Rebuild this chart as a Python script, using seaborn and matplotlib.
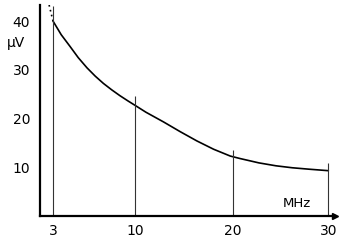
import numpy as np
import pandas as pd
import matplotlib
matplotlib.use("Agg")
import matplotlib.pyplot as plt
import seaborn as sns

# ---- data ----
freq_mhz = [3, 3.7, 4.45, 5.15, 5.9, 6.6, 7.3, 8.0, 8.7, 9.4, 10, 11.1, 12.9,
            14.6, 16.3, 18.0, 19.7, 20.7, 22.7, 24.5, 26.2, 28, 30]
noise_uv = [40.0, 37.2, 34.8, 32.5, 30.4, 28.7, 27.2, 25.9, 24.7, 23.6, 22.7, 21.3, 19.3,
            17.3, 15.4, 13.7, 12.3, 11.8, 10.9, 10.3, 9.9, 9.6, 9.3]
extrap_freq = [2.1, 3]
extrap_uv = [43.3, 40.0]
mark_freq = [3, 10, 20, 30]
mark_top = [43.0, 24.6, 13.5, 10.9]
x_ticks = [3, 10, 20, 30]
x_ticklabels = ["3", "10", "20", "30"]
y_ticks = [10, 20, 30, 40]
y_ticklabels = ["10", "20", "30", "40"]

sns.set_theme(style="white")
plt.rcParams["font.family"] = ["DejaVu Sans"]

fig = plt.figure(figsize=(3.4, 2.4), dpi=100)
ax = fig.add_axes([40 / 340, 24 / 240, 295 / 340, 211 / 240])

# hand-drawn, uneven frequency axis -> piecewise-linear scale
_d = np.array([-10, 0, 3, 10, 20, 30, 40])
_p = np.array([-43.3, 0, 13, 95, 193, 288, 383])
ax.set_xscale("function", functions=(lambda x: np.interp(x, _d, _p),
                                     lambda p: np.interp(p, _p, _d)))

df = pd.DataFrame({"f": freq_mhz, "v": noise_uv})
sns.lineplot(data=df, x="f", y="v", ax=ax, color="black", linewidth=1.2)
ax.plot(extrap_freq, extrap_uv, color="black", linestyle=(0, (1, 2)), linewidth=1.2)
ax.vlines(mark_freq, 0, mark_top, colors="#333333", linewidth=0.8)

ax.set_xlim(0, 30.7)
ax.set_ylim(0, 43.3)
ax.set_xticks(x_ticks)
ax.set_xticklabels(x_ticklabels)
ax.set_yticks(y_ticks)
ax.set_yticklabels(y_ticklabels)
ax.tick_params(axis="x", length=0, pad=6, labelsize=10, colors="black")
ax.tick_params(axis="y", direction="inout", length=6, width=1.3, pad=4,
               labelsize=10, colors="black")
ax.set_xlabel("")
ax.set_ylabel("")

for s in ["top", "right"]:
    ax.spines[s].set_visible(False)
for s in ["left", "bottom"]:
    ax.spines[s].set_color("black")
    ax.spines[s].set_linewidth(1.6)

ax.plot(1, 0, marker=">", color="black", markersize=4,
        transform=ax.transAxes, clip_on=False)

ax.text(0.871, 0.057, "MHz", transform=ax.transAxes, ha="center", va="center",
        fontsize=9.5, color="black")
ax.text(-0.081, 0.82, "μV", transform=ax.transAxes, ha="center", va="center",
        fontsize=10, color="black")

fig.savefig("out.png", dpi=100, facecolor="white")
